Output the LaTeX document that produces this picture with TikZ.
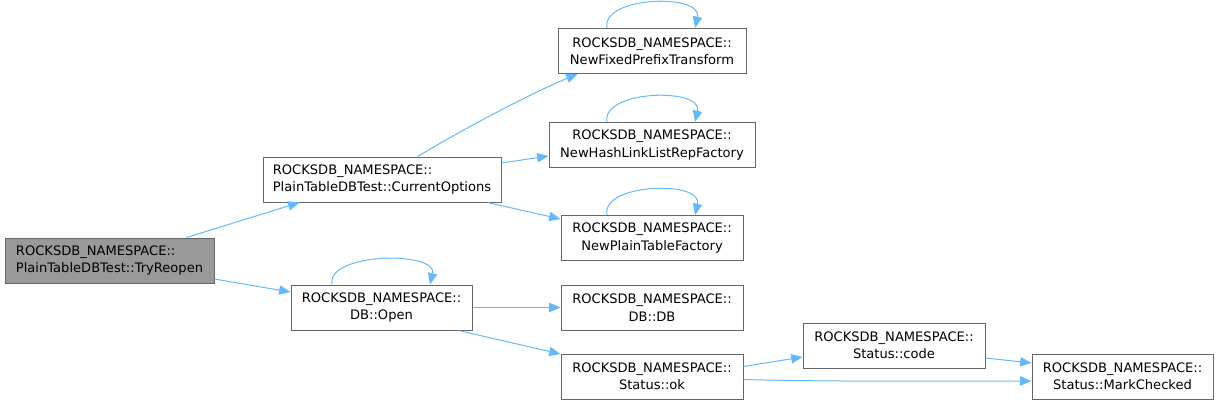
\documentclass[tikz,border=0pt]{standalone}
\usepackage{fontspec}
\setmainfont{DejaVu Sans}
\usetikzlibrary{arrows.meta,calc}
\definecolor{edgeblue}{RGB}{99,184,255}
\definecolor{boxline}{RGB}{102,102,102}
\definecolor{curfill}{RGB}{153,153,153}

\begin{document}
\begin{tikzpicture}[x=0.75pt,y=-0.75pt,>={Triangle[length=8.5pt,width=7pt]},
  fn/.style={draw=boxline,line width=0.75pt,fill=white,minimum height=33.75pt,
    inner xsep=0pt,inner ysep=0pt,font=\fontsize{9.8}{13}\selectfont,align=center},
  call/.style={->,draw=edgeblue,line width=0.75pt}]
\useasboundingbox (0,0) rectangle (1219,405);
% functions
\node[fn,fill=curfill,align=left,minimum width=209*0.75pt] (tryreopen) at (109.5,260.5)
  {ROCKSDB\_NAMESPACE::\\PlainTableDBTest::TryReopen};
\node[fn,align=left,minimum width=238*0.75pt] (curopt) at (382,179.5)
  {ROCKSDB\_NAMESPACE::\\PlainTableDBTest::CurrentOptions};
\node[fn,minimum width=181*0.75pt] (open) at (381.5,307.5) {ROCKSDB\_NAMESPACE::\\DB::Open};
\node[fn,minimum width=188*0.75pt] (fixed) at (652,51) {ROCKSDB\_NAMESPACE::\\NewFixedPrefixTransform};
\node[fn,minimum width=206*0.75pt] (hashlink) at (652,145) {ROCKSDB\_NAMESPACE::\\NewHashLinkListRepFactory};
\node[fn,minimum width=182*0.75pt] (plaintab) at (652,238) {ROCKSDB\_NAMESPACE::\\NewPlainTableFactory};
\node[fn,minimum width=182*0.75pt] (dbdb) at (652,307.5) {ROCKSDB\_NAMESPACE::\\DB::DB};
\node[fn,minimum width=182*0.75pt] (statok) at (652,376.5) {ROCKSDB\_NAMESPACE::\\Status::ok};
\node[fn,minimum width=182*0.75pt] (statcode) at (894,345.5) {ROCKSDB\_NAMESPACE::\\Status::code};
\node[fn,minimum width=181*0.75pt] (mark) at (1122.5,376.5) {ROCKSDB\_NAMESPACE::\\Status::MarkChecked};
% calls
\draw[call] ($(tryreopen.north west)+(182,0)$) -- ($(curopt.south west)+(37,0)$);
\draw[call] ($(tryreopen.east)+(0,18.5)$) -- ($(open.west)+(0,-15.5)$);
\draw[call] ($(curopt.north west)+(155,0)$) .. controls (462,130) and (525,96) .. ($(fixed.south west)+(20,0)$);
\draw[call] ($(curopt.east)+(0,-16.5)$) -- ($(hashlink.west)+(0,11)$);
\draw[call] ($(curopt.south east)+(-14,0)$) -- ($(plaintab.west)+(0,-19)$);
\draw[call] (open.east) -- (dbdb.west);
\draw[call] ($(open.south east)+(-14,0)$) -- ($(statok.north west)+(0,0.5)$);
\draw[call] ($(statok.east)+(0,-10)$) -- ($(statcode.west)+(0,11.5)$);
\draw[call] ($(statok.east)+(0,3)$) .. controls (840,382) and (950,381) .. ($(mark.west)+(0,4.5)$);
\draw[call] ($(statcode.east)+(0,12.5)$) -- ($(mark.west)+(0,-13.5)$);
% recursive calls
\foreach \f in {fixed,hashlink,plaintab}
  \draw[call] ($(\f.north)+(-45,0)$) .. controls +(-6,-32) and +(8,-35) .. ($(\f.north)+(43,0)$);
\draw[call] ($(open.north)+(-49.5,0)$) .. controls +(-6,-32) and +(8,-34) .. ($(open.north)+(48.5,0)$);
\end{tikzpicture}
\end{document}
